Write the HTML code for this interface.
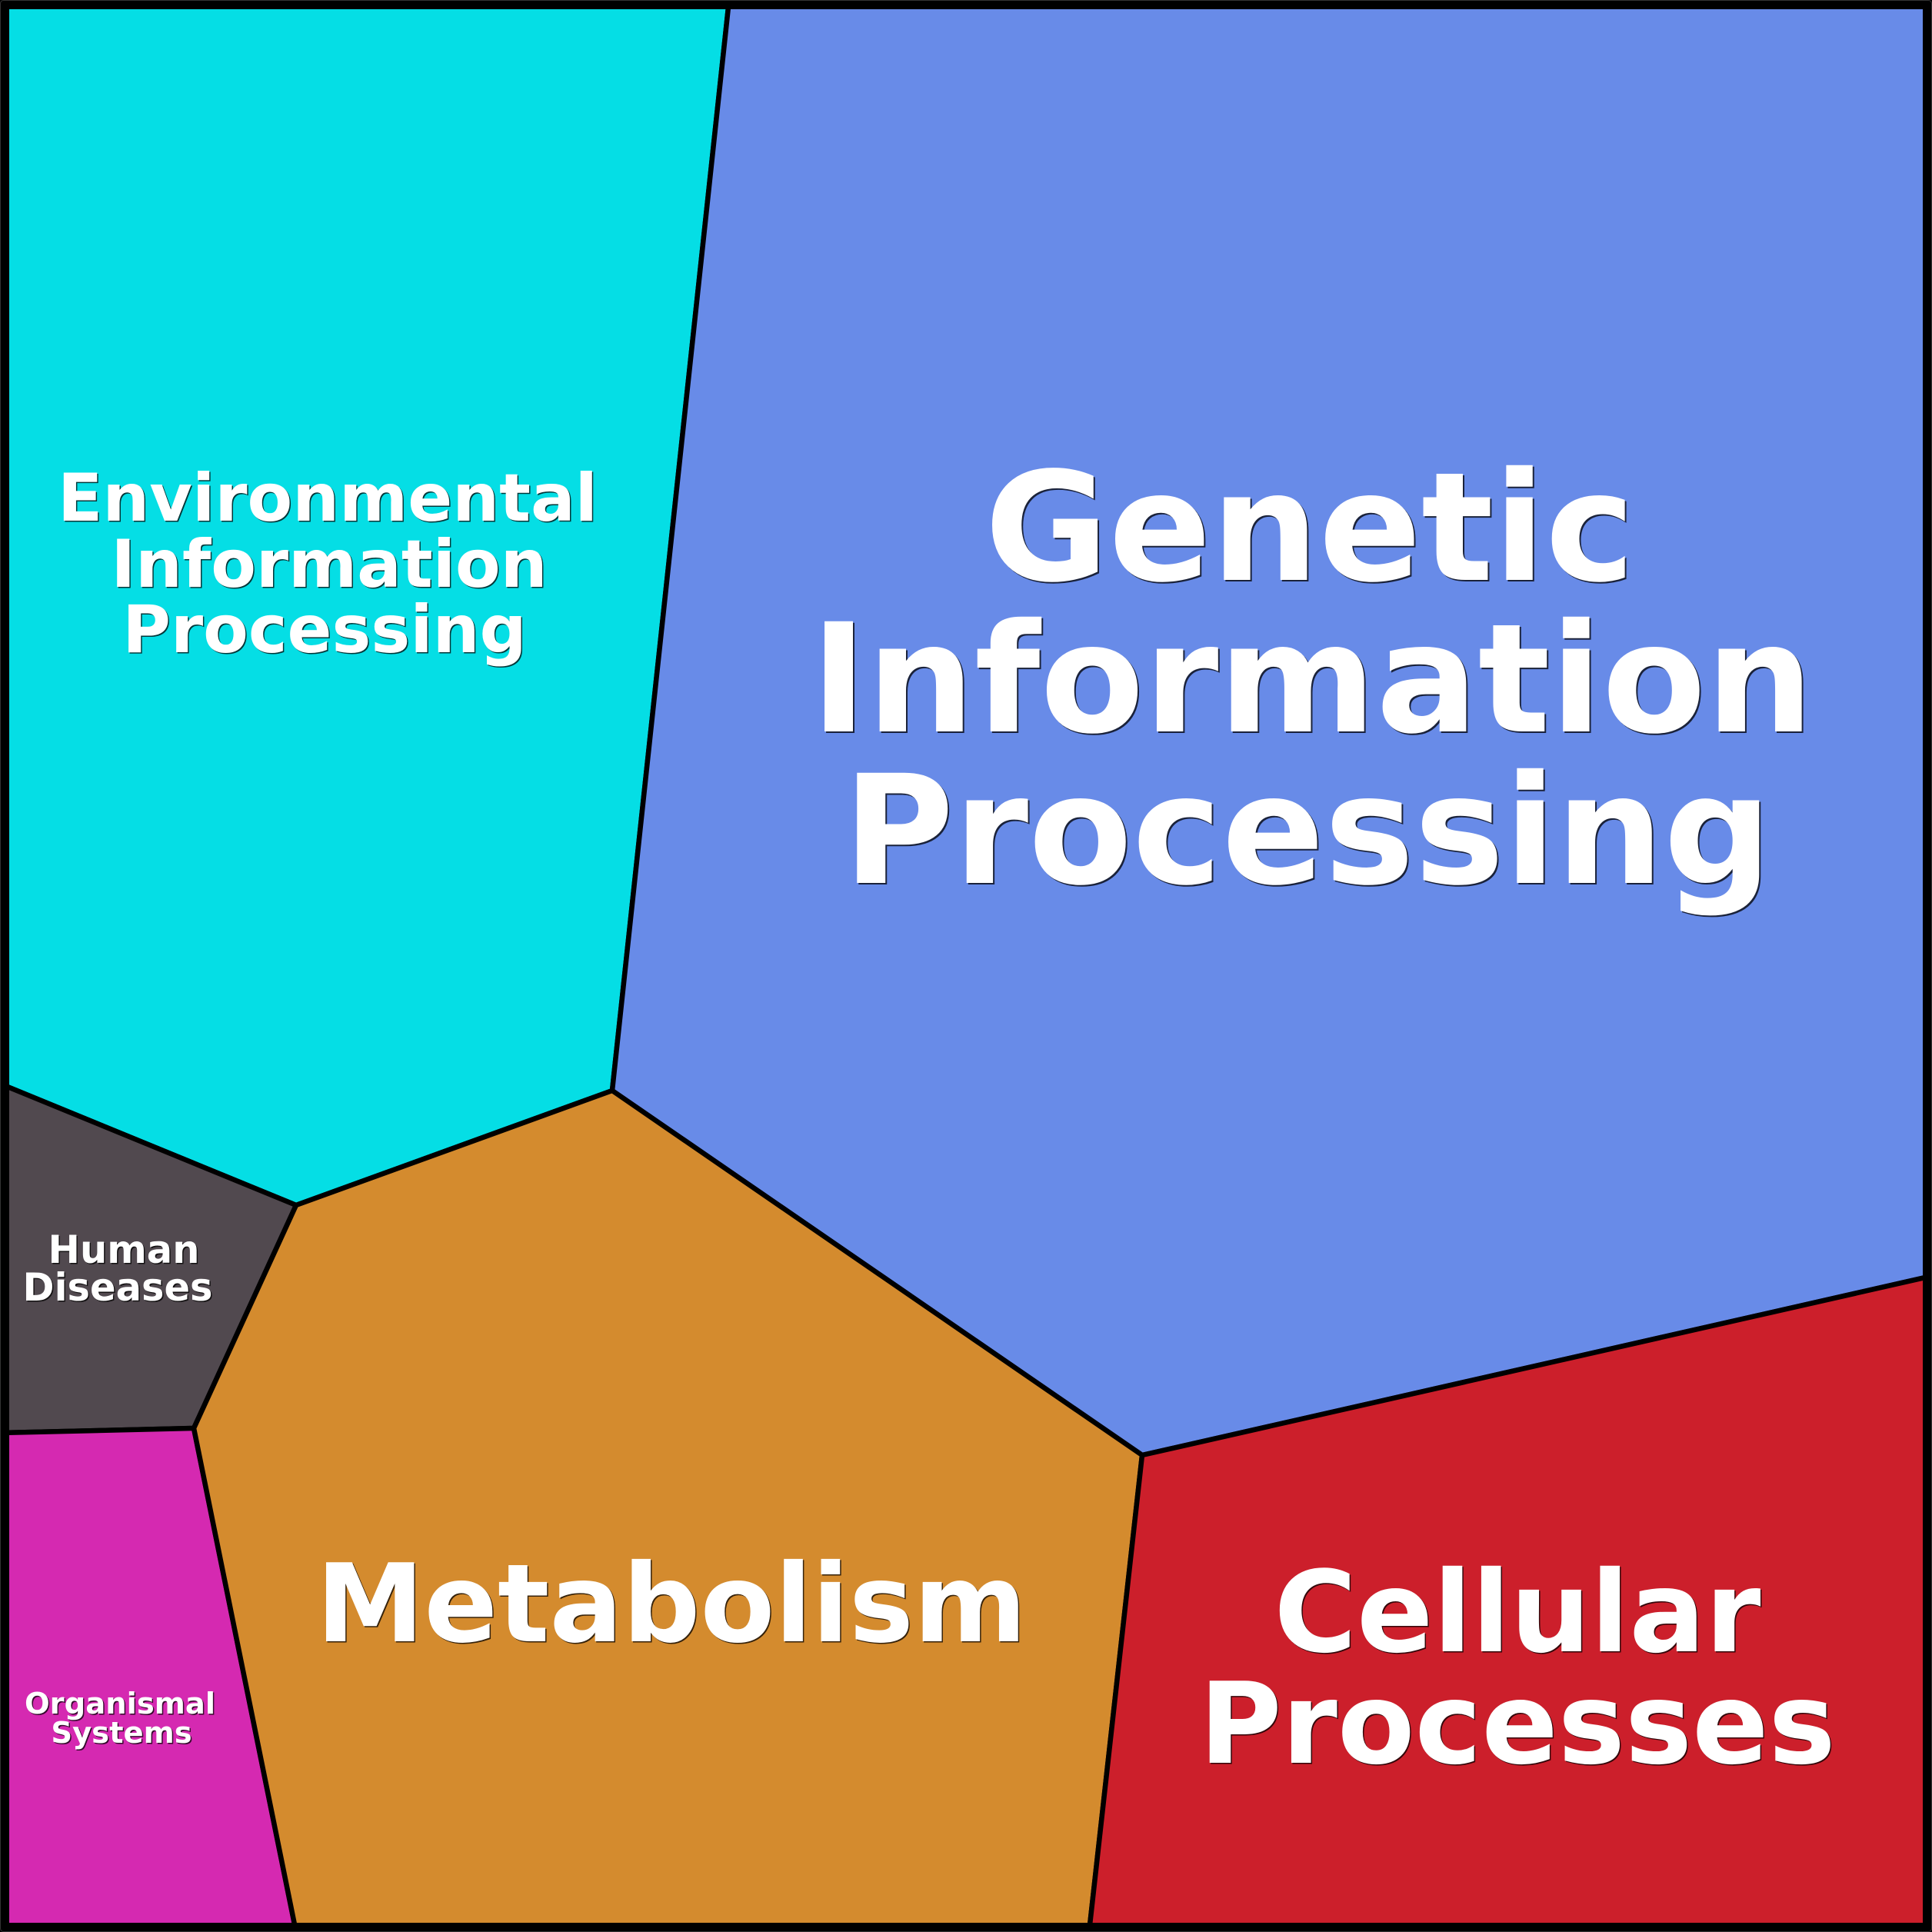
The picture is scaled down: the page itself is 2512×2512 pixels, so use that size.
<!DOCTYPE html>
<html>
<head>
<meta charset="utf-8">
<style>
  html, body { margin: 0; padding: 0; background: #ffffff; }
  body { width: 2512px; height: 2512px; overflow: hidden; }
  svg { display: block; }
  text { font-family: "DejaVu Sans", "Liberation Sans", sans-serif; font-weight: bold; text-anchor: middle; }
  .sh { fill: #000000; opacity: 0.75; }
  .fg { fill: #ffffff; }
</style>
</head>
<body>
<svg width="2512" height="2512" viewBox="0 0 2512 2512" xmlns="http://www.w3.org/2000/svg">
  <g stroke="#000" stroke-width="6.5" stroke-linejoin="miter">
    <polygon fill="#05DEE5" points="0,0 948,0 796,1418 385,1567 0,1409"/>
    <polygon fill="#688BE8" points="948,0 2512,0 2512,1659 1485,1892 796,1418"/>
    <polygon fill="#51494F" points="0,1409 385,1567 252,1857 0,1863"/>
    <polygon fill="#D529B1" points="0,1863 252,1857 385,2512 0,2512"/>
    <polygon fill="#D48B2E" points="796,1418 1485,1892 1416,2512 385,2512 252,1857 385,1567"/>
    <polygon fill="#CC1F2B" points="1485,1892 2512,1659 2512,2512 1416,2512"/>
  </g>
  <rect x="6" y="6" width="2500" height="2500" rx="3" fill="none" stroke="#000" stroke-width="12"/>
  <rect x="0.5" y="0.5" width="2511" height="2511" rx="4" fill="none" stroke="#333" stroke-width="1"/>

  <!-- Environmental Information Processing -->
  <g font-size="85.5">
    <text class="sh" x="427.5" y="678.5">Environmental</text>
    <text class="sh" x="429.5" y="764.5">Information</text>
    <text class="sh" x="423.5" y="849.5">Processing</text>
    <text class="fg" x="426" y="677">Environmental</text>
    <text class="fg" x="428" y="763">Information</text>
    <text class="fg" x="422" y="848">Processing</text>
  </g>

  <!-- Genetic Information Processing -->
  <g font-size="196.5">
    <text class="sh" x="1705" y="756">Genetic</text>
    <text class="sh" x="1708" y="953">Information</text>
    <text class="sh" x="1702" y="1150">Processing</text>
    <text class="fg" x="1703" y="754">Genetic</text>
    <text class="fg" x="1706" y="951">Information</text>
    <text class="fg" x="1700" y="1148">Processing</text>
  </g>

  <!-- Metabolism -->
  <g font-size="141">
    <text class="sh" x="874.5" y="2135.5">Metabolism</text>
    <text class="fg" x="873" y="2134">Metabolism</text>
  </g>

  <!-- Cellular Processes -->
  <g font-size="146.5">
    <text class="sh" x="1974.5" y="2148.5">Cellular</text>
    <text class="sh" x="1974.5" y="2293.5">Processes</text>
    <text class="fg" x="1973" y="2147">Cellular</text>
    <text class="fg" x="1973" y="2292">Processes</text>
  </g>

  <!-- Human Diseases -->
  <g font-size="49.5">
    <text class="sh" x="162.5" y="1643.5">Human</text>
    <text class="sh" x="154.5" y="1692.5">Diseases</text>
    <text class="fg" x="161" y="1642">Human</text>
    <text class="fg" x="153" y="1691">Diseases</text>
  </g>

  <!-- Organismal Systems -->
  <g font-size="38.5">
    <text class="sh" x="157.5" y="2229.5">Organismal</text>
    <text class="sh" x="159.5" y="2267.5">Systems</text>
    <text class="fg" x="156" y="2228">Organismal</text>
    <text class="fg" x="158" y="2266">Systems</text>
  </g>
</svg>
</body>
</html>
